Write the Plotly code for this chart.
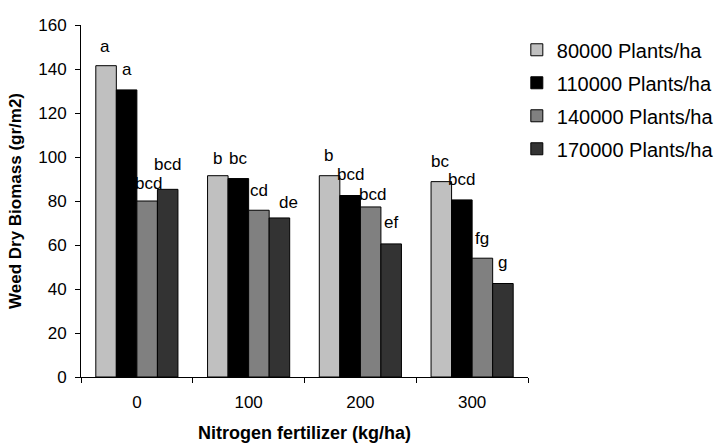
import plotly.graph_objects as go

# Nitrogen rates (kg/ha) on the category axis
nitrogen = ["0", "100", "200", "300"]

# Weed dry biomass (gr/m2) for each plant density
biomass_80000 = [141.5, 91.5, 91.5, 88.8]
biomass_110000 = [130.5, 90.2, 82.5, 80.5]
biomass_140000 = [80.0, 75.8, 77.3, 54.0]
biomass_170000 = [85.3, 72.3, 60.5, 42.5]

# Mean-separation letters, same order as the value lists
letters_80000 = ["a", "b", "b", "bc"]
letters_110000 = ["a", "bc", "bcd", "bcd"]
letters_140000 = ["bcd", "cd", "bcd", "fg"]
letters_170000 = ["bcd", "de", "ef", "g"]

series_names = ["80000 Plants/ha", "110000 Plants/ha",
                "140000 Plants/ha", "170000 Plants/ha"]
series_values = [biomass_80000, biomass_110000, biomass_140000, biomass_170000]
series_letters = [letters_80000, letters_110000, letters_140000, letters_170000]

# Styling
fill_colors = ["#C0C0C0", "#000000", "#808080", "#333333"]
BAR_GAP = 0.265
FONT = "Liberation Sans, Arial, sans-serif"

# pixel offsets of each letter above its bar (series x group)
letter_yshift = [[19, 17, 20, 20],
                 [20, 20, 21, 20],
                 [18, 20, 12, 20],
                 [25, 15, 21, 21]]
letter_xshift = [[-1, 0, -1, -1],
                 [0, 0, 0, 0],
                 [1, 0, 2, 0],
                 [0, 9, 0, 0]]

fig = go.Figure()
for name, vals, color in zip(series_names, series_values, fill_colors):
    fig.add_trace(go.Bar(
        x=nitrogen, y=vals, name=name, legendgroup=name,
        marker=dict(color=color, line=dict(color="#000000", width=1)),
    ))

# letters over bars, positioned from the category index and bar slot
n_series = len(series_values)
slot = (1 - BAR_GAP) / n_series
for s, (vals, letters) in enumerate(zip(series_values, series_letters)):
    for g, (v, lab) in enumerate(zip(vals, letters)):
        fig.add_annotation(
            x=g + (s - (n_series - 1) / 2) * slot, y=v,
            xref="x", yref="y", text=lab, showarrow=False,
            yanchor="middle", xanchor="center",
            yshift=letter_yshift[s][g], xshift=letter_xshift[s][g],
            font=dict(family=FONT, size=17, color="#000000"),
        )

fig.update_layout(
    width=720, height=443,
    margin=dict(l=81, r=192, t=25, b=66, autoexpand=False),
    paper_bgcolor="white", plot_bgcolor="white",
    barmode="group", bargap=BAR_GAP, bargroupgap=0,
    font=dict(family=FONT, color="#000000"),
    showlegend=True,
    legend=dict(
        x=0.975, xanchor="left", y=0.985, yanchor="top",
        font=dict(family=FONT, size=20, color="#000000"),
        traceorder="grouped", tracegroupgap=4,
        bgcolor="rgba(0,0,0,0)", itemclick=False,
    ),
    xaxis=dict(
        type="category", range=[-0.5, 3.5],
        showline=True, linecolor="#000000", linewidth=1,
        ticks="outside", tickson="boundaries", ticklen=5,
        tickcolor="#000000", showgrid=False,
        tickfont=dict(family=FONT, size=17, color="#000000"),
        ticklabelstandoff=10,
        title=dict(text="<b>Nitrogen fertilizer (kg/ha)</b>",
                   font=dict(family=FONT, size=18, color="#000000"),
                   standoff=14),
    ),
    yaxis=dict(
        range=[0, 160], dtick=20,
        showline=True, linecolor="#000000", linewidth=1,
        ticks="outside", ticklen=5, tickcolor="#000000",
        showgrid=False, zeroline=False,
        tickfont=dict(family=FONT, size=17, color="#000000"),
        ticklabelstandoff=5,
        title=dict(text="<b>Weed Dry Biomass (gr/m2)</b>",
                   font=dict(family=FONT, size=17, color="#000000"),
                   standoff=12),
    ),
)

fig.write_html("out.html")
